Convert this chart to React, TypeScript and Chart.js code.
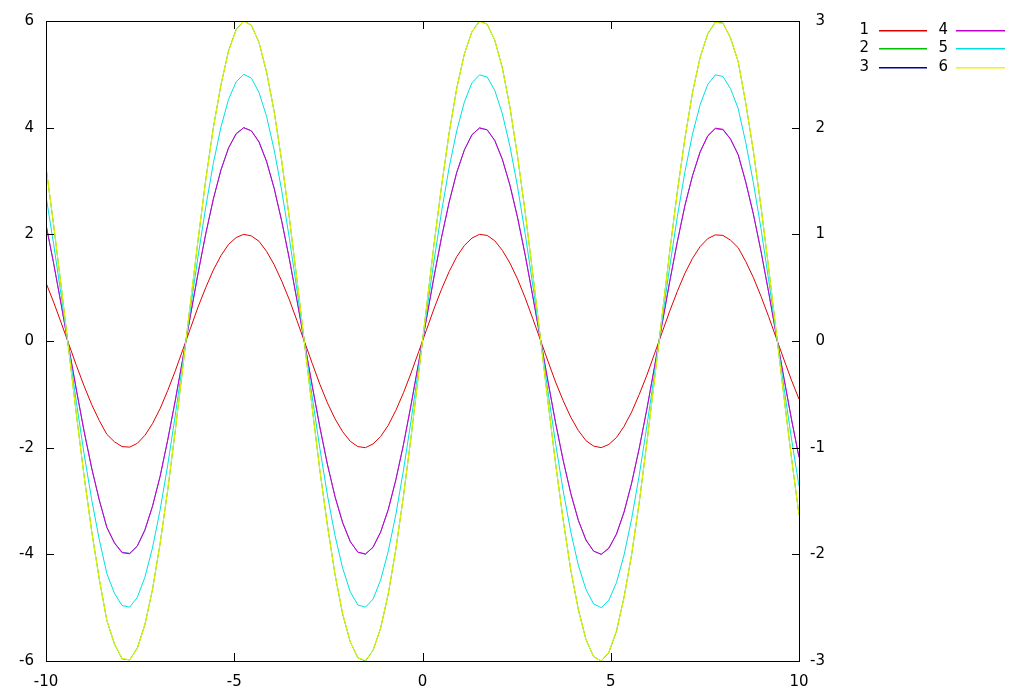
import React, { useEffect, useRef } from "react";
import { Chart, registerables } from "chart.js";

Chart.register(...registerables);

// x sample positions (100 samples over [-10, 10])
const xValues = [
  -10, -9.798, -9.596, -9.394, -9.192, -8.99, -8.788, -8.586, -8.384, -8.182,
  -7.98, -7.778, -7.576, -7.374, -7.172, -6.97, -6.768, -6.566, -6.364, -6.162,
  -5.96, -5.758, -5.556, -5.354, -5.152, -4.949, -4.747, -4.545, -4.343, -4.141,
  -3.939, -3.737, -3.535, -3.333, -3.131, -2.929, -2.727, -2.525, -2.323, -2.121,
  -1.919, -1.717, -1.515, -1.313, -1.111, -0.909, -0.707, -0.505, -0.303, -0.101,
  0.101, 0.303, 0.505, 0.707, 0.909, 1.111, 1.313, 1.515, 1.717, 1.919,
  2.121, 2.323, 2.525, 2.727, 2.929, 3.131, 3.333, 3.535, 3.737, 3.939,
  4.141, 4.343, 4.545, 4.747, 4.949, 5.152, 5.354, 5.556, 5.758, 5.96,
  6.162, 6.364, 6.566, 6.768, 6.97, 7.172, 7.374, 7.576, 7.778, 7.98,
  8.182, 8.384, 8.586, 8.788, 8.99, 9.192, 9.394, 9.596, 9.798, 10,
];

// series 1 (left axis)
const series1 = [
  1.09, 0.73, 0.34, -0.06, -0.46, -0.84, -1.19, -1.49, -1.75, -1.89,
  -1.98, -1.99, -1.92, -1.77, -1.55, -1.27, -0.93, -0.56, -0.16, 0.24,
  0.64, 1.0, 1.33, 1.6, 1.81, 1.94, 2.0, 1.97, 1.87, 1.68,
  1.43, 1.12, 0.77, 0.38, -0.02, -0.42, -0.81, -1.16, -1.46, -1.7,
  -1.88, -1.98, -2.0, -1.93, -1.79, -1.58, -1.3, -0.97, -0.6, -0.2,
  0.2, 0.6, 0.97, 1.3, 1.58, 1.79, 1.93, 2.0, 1.98, 1.88,
  1.7, 1.46, 1.16, 0.81, 0.42, 0.02, -0.38, -0.77, -1.12, -1.43,
  -1.68, -1.87, -1.97, -2.0, -1.94, -1.81, -1.6, -1.33, -1.0, -0.64,
  -0.24, 0.16, 0.56, 0.93, 1.27, 1.55, 1.77, 1.92, 1.99, 1.98,
  1.89, 1.75, 1.49, 1.19, 0.84, 0.46, 0.06, -0.34, -0.73, -1.09,
];

// series 2 (right axis)
const series2 = [
  1.63, 1.09, 0.51, -0.09, -0.69, -1.26, -1.78, -2.23, -2.62, -2.84,
  -2.98, -2.99, -2.88, -2.66, -2.33, -1.9, -1.4, -0.84, -0.24, 0.36,
  0.95, 1.51, 2.0, 2.4, 2.72, 2.92, 3.0, 2.96, 2.8, 2.52,
  2.15, 1.68, 1.15, 0.57, -0.03, -0.63, -1.21, -1.73, -2.19, -2.56,
  -2.82, -2.97, -3.0, -2.9, -2.69, -2.37, -1.95, -1.45, -0.9, -0.3,
  0.3, 0.9, 1.45, 1.95, 2.37, 2.69, 2.9, 3.0, 2.97, 2.82,
  2.56, 2.19, 1.73, 1.21, 0.63, 0.03, -0.57, -1.15, -1.68, -2.15,
  -2.52, -2.8, -2.96, -3.0, -2.92, -2.72, -2.4, -2.0, -1.51, -0.95,
  -0.36, 0.24, 0.84, 1.4, 1.9, 2.33, 2.66, 2.88, 2.99, 2.98,
  2.84, 2.62, 2.23, 1.78, 1.26, 0.69, 0.09, -0.51, -1.09, -1.63,
];

// series 3 (right axis)
const series3 = [
  1.09, 0.73, 0.34, -0.06, -0.46, -0.84, -1.19, -1.49, -1.75, -1.89,
  -1.98, -1.99, -1.92, -1.77, -1.55, -1.27, -0.93, -0.56, -0.16, 0.24,
  0.64, 1.0, 1.33, 1.6, 1.81, 1.94, 2.0, 1.97, 1.87, 1.68,
  1.43, 1.12, 0.77, 0.38, -0.02, -0.42, -0.81, -1.16, -1.46, -1.7,
  -1.88, -1.98, -2.0, -1.93, -1.79, -1.58, -1.3, -0.97, -0.6, -0.2,
  0.2, 0.6, 0.97, 1.3, 1.58, 1.79, 1.93, 2.0, 1.98, 1.88,
  1.7, 1.46, 1.16, 0.81, 0.42, 0.02, -0.38, -0.77, -1.12, -1.43,
  -1.68, -1.87, -1.97, -2.0, -1.94, -1.81, -1.6, -1.33, -1.0, -0.64,
  -0.24, 0.16, 0.56, 0.93, 1.27, 1.55, 1.77, 1.92, 1.99, 1.98,
  1.89, 1.75, 1.49, 1.19, 0.84, 0.46, 0.06, -0.34, -0.73, -1.09,
];

// series 4 (left axis)
const series4 = [
  2.18, 1.46, 0.68, -0.12, -0.92, -1.69, -2.38, -2.98, -3.49, -3.79,
  -3.97, -3.99, -3.85, -3.55, -3.1, -2.54, -1.86, -1.11, -0.32, 0.49,
  1.27, 2.01, 2.66, 3.21, 3.62, 3.89, 4.0, 3.94, 3.73, 3.37,
  2.86, 2.24, 1.53, 0.76, -0.04, -0.84, -1.61, -2.31, -2.92, -3.41,
  -3.76, -3.96, -3.99, -3.87, -3.58, -3.16, -2.6, -1.94, -1.19, -0.4,
  0.4, 1.19, 1.94, 2.6, 3.16, 3.58, 3.87, 3.99, 3.96, 3.76,
  3.41, 2.92, 2.31, 1.61, 0.84, 0.04, -0.76, -1.53, -2.24, -2.86,
  -3.37, -3.73, -3.94, -4.0, -3.89, -3.62, -3.21, -2.66, -2.01, -1.27,
  -0.49, 0.32, 1.11, 1.86, 2.54, 3.1, 3.55, 3.85, 3.99, 3.97,
  3.79, 3.49, 2.98, 2.38, 1.69, 0.92, 0.12, -0.68, -1.46, -2.18,
];

// series 5 (left axis)
const series5 = [
  2.72, 1.82, 0.85, -0.15, -1.15, -2.11, -2.97, -3.72, -4.36, -4.73,
  -4.96, -4.99, -4.81, -4.43, -3.88, -3.17, -2.33, -1.39, -0.4, 0.61,
  1.59, 2.51, 3.33, 4.01, 4.53, 4.86, 5.0, 4.93, 4.66, 4.21,
  3.58, 2.81, 1.92, 0.95, -0.05, -1.05, -2.01, -2.89, -3.65, -4.26,
  -4.7, -4.95, -4.99, -4.84, -4.48, -3.94, -3.25, -2.42, -1.49, -0.5,
  0.5, 1.49, 2.42, 3.25, 3.94, 4.48, 4.84, 4.99, 4.95, 4.7,
  4.26, 3.65, 2.89, 2.01, 1.05, 0.05, -0.95, -1.92, -2.81, -3.58,
  -4.21, -4.66, -4.93, -5.0, -4.86, -4.53, -4.01, -3.33, -2.51, -1.59,
  -0.61, 0.4, 1.39, 2.33, 3.17, 3.88, 4.43, 4.81, 4.99, 4.96,
  4.73, 4.36, 3.72, 2.97, 2.11, 1.15, 0.15, -0.85, -1.82, -2.72,
];

// series 6 (left axis)
const series6 = [
  3.26, 2.19, 1.02, -0.18, -1.38, -2.53, -3.57, -4.46, -5.24, -5.68,
  -5.95, -5.98, -5.77, -5.32, -4.66, -3.8, -2.79, -1.67, -0.48, 0.73,
  1.91, 3.01, 3.99, 4.81, 5.43, 5.83, 6.0, 5.92, 5.6, 5.05,
  4.29, 3.37, 2.3, 1.14, -0.06, -1.26, -2.42, -3.47, -4.38, -5.11,
  -5.64, -5.94, -5.99, -5.8, -5.38, -4.73, -3.9, -2.9, -1.79, -0.6,
  0.6, 1.79, 2.9, 3.9, 4.73, 5.38, 5.8, 5.99, 5.94, 5.64,
  5.11, 4.38, 3.47, 2.42, 1.26, 0.06, -1.14, -2.3, -3.37, -4.29,
  -5.05, -5.6, -5.92, -6.0, -5.83, -5.43, -4.81, -3.99, -3.01, -1.91,
  -0.73, 0.48, 1.67, 2.79, 3.8, 4.66, 5.32, 5.77, 5.98, 5.95,
  5.68, 5.24, 4.46, 3.57, 2.53, 1.38, 0.18, -1.02, -2.19, -3.26,
];

const seriesLabels = ["1", "2", "3", "4", "5", "6"];
const seriesValues = [series1, series2, series3, series4, series5, series6];
const seriesAxes = ["y", "y2", "y2", "y", "y", "y"];
const seriesColors = ["#e00000", "#00c000", "#0000a0", "#c000d0", "#00e0e0", "#f4f400"];
const seriesWidths = [1, 1, 0.6, 1, 1, 1];

const xMin = -10;
const xMax = 10;
const xStep = 5;
const yMin = -6;
const yMax = 6;
const yStep = 2;
const y2Min = -3;
const y2Max = 3;
const y2Step = 1;

const FONT = "'DejaVu Sans', sans-serif";
const FONT_SIZE = 15;

const framePlugin = {
  id: "gnuFrame",
  afterDatasetsDraw(chart: any) {
    const { ctx, chartArea: a, scales } = chart;
    ctx.save();
    ctx.strokeStyle = "#000";
    ctx.lineWidth = 1;
    ctx.strokeRect(a.left + 0.5, a.top + 0.5, a.right - a.left, a.bottom - a.top);
    const T = 8;
    ctx.beginPath();
    scales.x.ticks.forEach((t: any) => {
      const px = Math.round(scales.x.getPixelForValue(t.value)) + 0.5;
      ctx.moveTo(px, a.bottom);
      ctx.lineTo(px, a.bottom - T);
      ctx.moveTo(px, a.top);
      ctx.lineTo(px, a.top + T);
    });
    scales.y.ticks.forEach((t: any) => {
      const py = Math.round(scales.y.getPixelForValue(t.value)) + 0.5;
      ctx.moveTo(a.left, py);
      ctx.lineTo(a.left + T, py);
    });
    scales.y2.ticks.forEach((t: any) => {
      const py = Math.round(scales.y2.getPixelForValue(t.value)) + 0.5;
      ctx.moveTo(a.right + 1, py);
      ctx.lineTo(a.right + 1 - T, py);
    });
    ctx.stroke();

    // right axis labels (right-aligned like gnuplot)
    ctx.fillStyle = "#000";
    ctx.font = `${FONT_SIZE}px ${FONT}`;
    ctx.textAlign = "right";
    ctx.textBaseline = "middle";
    scales.y2.ticks.forEach((t: any) => {
      const py = scales.y2.getPixelForValue(t.value);
      ctx.fillText(String(t.value), a.right + 26, py);
    });

    // key
    const rowY = [30, 48, 67];
    const textX = [869, 948];
    const lineX = [
      [879, 927],
      [956, 1005],
    ];
    seriesLabels.forEach((lab, i) => {
      const col = Math.floor(i / 3);
      const row = i % 3;
      ctx.fillStyle = "#000";
      ctx.fillText(lab, textX[col], rowY[row] + 0.5);
      ctx.fillStyle = seriesColors[i];
      ctx.fillRect(lineX[col][0], rowY[row], lineX[col][1] - lineX[col][0], 1.5);
    });
    ctx.restore();
  },
};

export default function App() {
  const ref = useRef<HTMLCanvasElement | null>(null);
  useEffect(() => {
    if (!ref.current) return;
    const chart = new Chart(ref.current, {
      type: "line",
      data: {
        datasets: seriesValues.map((vals, i) => ({
          label: seriesLabels[i],
          data: xValues.map((x, k) => ({ x, y: vals[k] })),
          yAxisID: seriesAxes[i],
          borderColor: seriesColors[i],
          backgroundColor: seriesColors[i],
          borderWidth: seriesWidths[i],
          pointRadius: 0,
          tension: 0,
          fill: false,
          order: seriesValues.length - 1 - i,
        })),
      },
      options: {
        responsive: false,
        animation: false,
        events: [],
        layout: { padding: { top: 20, left: 0, right: 0, bottom: 0 } },
        plugins: { legend: { display: false }, tooltip: { enabled: false }, title: { display: false } },
        scales: {
          x: {
            type: "linear",
            position: "bottom",
            min: xMin,
            max: xMax,
            grid: { display: false, drawTicks: false },
            border: { display: false },
            ticks: { stepSize: xStep, color: "#000", font: { family: FONT, size: FONT_SIZE }, padding: 12, maxRotation: 0, autoSkip: false },
            afterFit: (s: any) => { s.height = 39; },
          },
          y: {
            type: "linear",
            position: "left",
            min: yMin,
            max: yMax,
            grid: { display: false, drawTicks: false },
            border: { display: false },
            ticks: { stepSize: yStep, color: "#000", font: { family: FONT, size: FONT_SIZE }, padding: 12 },
            afterFit: (s: any) => { s.width = 46; },
          },
          y2: {
            type: "linear",
            position: "right",
            min: y2Min,
            max: y2Max,
            grid: { display: false, drawTicks: false },
            border: { display: false },
            ticks: { stepSize: y2Step, display: false },
            afterFit: (s: any) => { s.width = 225; },
          },
        },
      },
      plugins: [framePlugin],
    } as any);
    return () => chart.destroy();
  }, []);
  return (
    <div style={{ position: "fixed", left: 0, top: 0, width: 1024, height: 700, background: "#fff" }}>
      <canvas ref={ref} width={1024} height={700} style={{ display: "block" }} />
    </div>
  );
}
